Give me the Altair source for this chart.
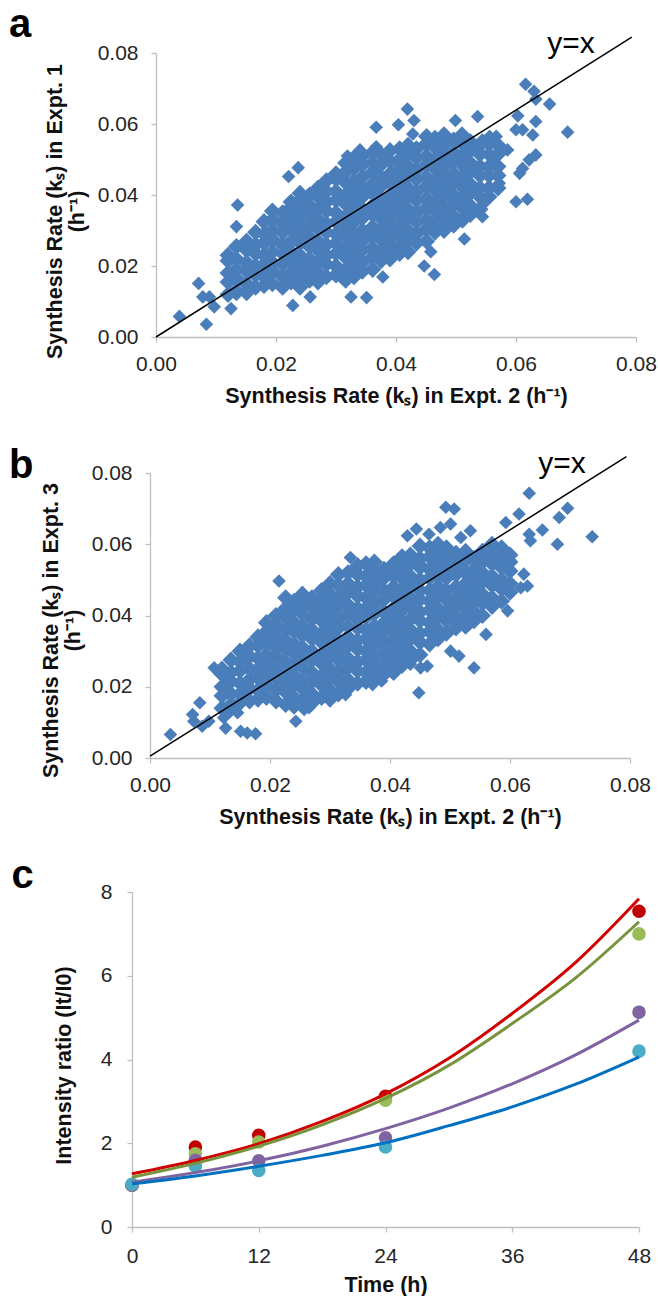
import altair as alt
import pandas as pd

W, H = 658, 1296
FONT = "Liberation Sans"
BLUE = "#4A7EBB"
AXIS_GRAY = "#BFBFBF"

# ---------------- Panel a: ks Expt. 2 (x) vs ks Expt. 1 (y), units of 0.001 h^-1 ----------------
a_col_x = [12, 13.4, 15.1, 16.6, 18, 19.4, 21.1, 22.5, 24, 25.6, 27, 28.4, 30, 31.6, 33, 34.4,
           36.1, 37.5, 39, 40.6, 42, 43.4, 45.1, 46.5, 48, 49.6, 51, 52.4, 54, 55.5, 57]
a_col_y = [
    [12, 15.5, 18, 21.5, 23],
    [13, 16.5, 19, 22, 25.5],
    [12.5, 15, 18.5, 21, 24.5, 27],
    [14, 17.5, 20, 23.5, 26, 29.5],
    [14.5, 17, 20.5, 23, 26.5, 29, 32.5],
    [15, 18.5, 21, 24, 27.5, 30, 33, 35.5],
    [14, 17, 20.5, 23.5, 26, 29.5, 32, 35],
    [15.5, 18, 21.5, 24, 27, 30.5, 33, 36.5, 38],
    [14, 17.5, 20, 23, 26.5, 29, 32.5, 35, 38.5, 40.5],
    [16, 19.5, 22, 25.5, 28, 31, 34.5, 37, 40],
    [15.5, 18, 21, 24.5, 27, 30.5, 33, 36, 39.5, 42],
    [17, 20.5, 23, 26, 29.5, 32, 35.5, 38, 41, 44],
    [17.5, 20, 23.5, 26.5, 29, 32.5, 35, 38.5, 41, 44.5, 46],
    [16, 19, 22.5, 25, 28.5, 31, 34, 37.5, 40, 43.5, 46.5, 49],
    [17, 20.5, 23, 26.5, 29, 32.5, 35.5, 38, 41.5, 44, 47.5, 50.5],
    [18.5, 21, 24.5, 27, 30, 33.5, 36, 39.5, 42, 45, 48.5, 51],
    [19, 22.5, 25, 28.5, 31, 34.5, 37, 40.5, 43, 46.5, 49, 52],
    [21.5, 24, 27.5, 30, 33.5, 36, 39, 42.5, 45, 48.5, 51.5],
    [22, 25.5, 28, 31.5, 34, 37.5, 40, 43.5, 46, 49.5, 52.5],
    [23.5, 26, 29.5, 32, 35.5, 38, 41.5, 44, 47.5, 50, 53],
    [24, 27.5, 30, 33.5, 36, 39.5, 42, 45.5, 48, 51.5, 54],
    [26.5, 29, 32.5, 35, 38.5, 41, 44.5, 47, 50.5, 53],
    [27, 30.5, 33, 36.5, 39, 42.5, 45, 48.5, 51, 54.5, 56.5],
    [29.5, 32, 35.5, 38, 41.5, 44, 47.5, 50, 53.5, 56],
    [30, 33.5, 36, 39.5, 42, 45.5, 48, 51.5, 54, 57],
    [31.5, 34, 37.5, 40, 43.5, 46, 49.5, 52, 55.5],
    [33, 36.5, 39, 42.5, 45, 48.5, 51, 54.5, 57],
    [34.5, 37, 40.5, 43, 46.5, 49, 52.5, 55],
    [36, 39.5, 42, 45.5, 48, 51.5, 54],
    [39.5, 42, 45.5, 48, 51.5, 54.5],
    [42, 45.5, 48, 51.5, 54],
]
a_out_x = [3.9, 8.4, 7.1, 7.8, 8.9, 9.7, 12.5, 13.4, 13.6, 13.4, 22.8, 25.7, 32.5, 35.1, 37.8,
           44.7, 46.4, 45.8, 51.4, 22.1, 23.7, 30.1, 31.9, 34.0, 36.7, 36.7, 40.4, 41.9, 43.0,
           42.8, 49.9, 53.6, 61.6, 63.0, 63.3, 65.6, 68.6, 63.3, 60.3, 62.8, 60.0, 61.1, 63.3,
           62.2, 61.1, 60.6, 60.0, 61.9, 57.2, 58.6, 56.1, 54.4, 54.4, 52.8, 51.1, 48.9, 55.6,
           56.7, 54.4, 52.2, 51.1]
a_out_y = [5.8, 3.6, 15.1, 11.3, 11.3, 8.5, 8.0, 12.0, 37.2, 31.1, 8.9, 11.3, 11.3, 11.1, 16.9,
           20.0, 17.6, 24.0, 27.6, 45.2, 47.7, 45.6, 51.0, 52.7, 59.1, 53.6, 59.8, 64.2, 61.0,
           57.2, 61.0, 62.1, 71.2, 69.2, 67.0, 65.6, 57.7, 60.7, 62.3, 56.9, 58.4, 58.4, 51.3,
           49.9, 47.5, 46.1, 38.1, 38.8, 43.3, 52.7, 48.9, 37.2, 33.9, 35.3, 32.5, 31.5, 56.5,
           56.5, 55.5, 55.5, 56.5]

# ---------------- Panel b: ks Expt. 2 (x) vs ks Expt. 3 (y) ----------------
b_col_x = [12, 13.5, 15, 16.6, 18, 19.4, 21, 22.6, 24, 25.4, 27, 28.6, 30, 31.4, 33, 34.6, 36,
           37.4, 39, 40.6, 42, 43.4, 45, 46.6, 48, 49.4, 51, 52.6, 54, 55.4, 57, 58.6, 60]
b_col_y = [
    [14, 17.5, 20, 23.5, 25],
    [15, 18, 21.5, 24, 27.5],
    [15.5, 18, 21, 24.5, 27, 30],
    [16, 19.5, 22, 25, 28.5, 31.5],
    [16.5, 19, 22.5, 25, 28, 31.5, 34],
    [17, 20.5, 23, 26.5, 29, 32, 35.5, 38],
    [16, 19, 22.5, 25, 28.5, 31, 34, 37.5, 40],
    [15, 18.5, 21, 24.5, 27, 30.5, 33, 36, 39.5, 42, 45],
    [14.5, 17, 20.5, 23, 26, 29.5, 32, 35.5, 38, 41.5, 44],
    [16, 19.5, 22, 25.5, 28, 31, 34.5, 37, 40.5, 43, 46],
    [15.5, 18, 21.5, 24, 27.5, 30, 33.5, 36, 39, 42.5, 45],
    [17, 20.5, 23, 26.5, 29, 32.5, 35, 38.5, 41, 44.5, 47],
    [16.5, 19, 22.5, 25, 28.5, 31, 34.5, 37, 40.5, 43, 46, 49],
    [18, 21.5, 24, 27.5, 30, 33, 36.5, 39, 42.5, 45, 48.5, 51.5],
    [19.5, 22, 25.5, 28, 31.5, 34, 37, 40.5, 43, 46.5, 49, 52],
    [21, 24.5, 27, 30.5, 33, 36.5, 39, 42, 45.5, 48, 51.5, 54],
    [21.5, 24, 27.5, 30, 33.5, 36, 39.5, 42, 45, 48.5, 51, 54.5],
    [22, 25.5, 28, 31.5, 34, 37, 40.5, 43, 46.5, 49, 52.5, 55],
    [23.5, 26, 29.5, 32, 35.5, 38, 41, 44.5, 47, 50.5, 53],
    [24, 27.5, 30, 33.5, 36, 39.5, 42, 45.5, 48, 51, 54.5],
    [26, 29.5, 32, 35.5, 38, 41.5, 44, 47, 50.5, 53, 56.5],
    [27.5, 30, 33.5, 36, 39, 42.5, 45, 48.5, 51, 54.5, 57],
    [29, 32.5, 35, 38.5, 41, 44.5, 47, 50, 53.5, 56, 59.5],
    [32, 35.5, 38, 41.5, 44, 47, 50.5, 53, 56.5, 59],
    [33.5, 36, 39.5, 42, 45.5, 48, 51, 54.5, 57, 60],
    [35, 38.5, 41, 44.5, 47, 50.5, 53, 56, 59],
    [36.5, 39, 42.5, 45, 48, 51.5, 54, 57.5],
    [37, 40.5, 43, 46.5, 49, 52, 55.5, 58],
    [38.5, 41, 44.5, 47, 50.5, 53, 56],
    [40, 43.5, 46, 49.5, 52, 55, 58],
    [42.5, 45, 48.5, 51, 54.5, 57, 60],
    [44, 47.5, 50, 53.5, 56, 59],
    [46.5, 49, 52.5, 55, 57],
]
b_out_x = [3.4, 7.1, 8.3, 7.3, 8.7, 9.8, 10.7, 12.6, 15.1, 16.2, 17.6, 12.3, 13.4, 14.6, 24.3,
           25.7, 26.5, 21.5, 33.4, 32.6, 37.1, 38.6, 42.9, 44.4, 46.5, 45.1, 44.8, 43.4, 45.1,
           46.2, 49.3, 50.7, 48.4, 50.1, 53.4, 51.8, 50.1, 51.5, 54.0, 56.0, 59.3, 61.5, 63.2,
           65.4, 68.2, 69.6, 67.9, 73.7, 63.2, 63.4, 62.3, 61.8, 62.9, 59.6, 52.3, 53.2, 54.0,
           54.6, 53.7]
b_out_y = [6.6, 12.2, 15.5, 10.3, 8.9, 10.3, 25.3, 8.4, 7.5, 7.0, 6.8, 11.3, 13.1, 12.7, 10.3,
           13.6, 14.1, 49.7, 56.3, 17.8, 20.6, 21.6, 62.4, 64.3, 62.8, 54.4, 18.3, 26.3, 25.3,
           25.8, 70.4, 69.9, 64.7, 65.7, 63.8, 61.9, 30.0, 28.6, 25.3, 34.7, 66.1, 68.5, 74.3,
           64.0, 67.5, 70.1, 60.0, 62.1, 62.8, 61.0, 51.6, 47.8, 48.3, 41.3, 39.4, 37.5, 47.8,
           44.1, 51.1]

# y = x reference line (end points as drawn)
a_line_x = [0.0, 0.0793]
a_line_y = [0.0, 0.0845]
b_line_x = [0.0, 0.0794]
b_line_y = [0.0005, 0.0846]

# ---------------- Panel c: intensity ratio vs time ----------------
t_obs = [0, 6, 12, 24, 48]
red_obs = [1.0, 1.91, 2.19, 3.12, 7.54]
green_obs = [1.0, 1.75, 2.03, 3.03, 7.0]
purple_obs = [1.0, 1.59, 1.58, 2.13, 5.13]
cyan_obs = [1.02, 1.45, 1.35, 1.91, 4.2]

t_fit = [0, 6, 12, 18, 24, 30, 36, 42, 48]
red_fit = [1.27, 1.59, 1.99, 2.52, 3.18, 4.03, 5.1, 6.32, 7.84]
green_fit = [1.19, 1.52, 1.93, 2.44, 3.07, 3.86, 4.86, 5.95, 7.29]
purple_fit = [1.07, 1.30, 1.58, 1.93, 2.35, 2.84, 3.42, 4.11, 4.94]
blue_fit = [1.03, 1.22, 1.45, 1.71, 2.01, 2.42, 2.87, 3.41, 4.06]

series = [
    ("red", red_obs, red_fit, "#C00000", "#D00000"),
    ("green", green_obs, green_fit, "#9BBB59", "#77933C"),
    ("purple", purple_obs, purple_fit, "#8064A2", "#8064A2"),
    ("cyan", cyan_obs, blue_fit, "#4BACC6", "#0070C0"),
]


def build_scatter(col_x, col_y):
    xs, ys = [], []
    for cx, cy in zip(col_x, col_y):
        xs += [cx / 1000.0] * len(cy)
        ys += [v / 1000.0 for v in cy]
    return pd.DataFrame({"x": xs, "y": ys})


def build_points(px, py):
    return pd.DataFrame({"x": [v / 1000.0 for v in px], "y": [v / 1000.0 for v in py]})


def x_axis(values, fmt, axis_y, title, title_x, pad, title_y=65):
    kw = dict(values=values, orient="bottom", offset=axis_y - H, title=title,
              titleX=title_x, titleY=title_y, titleAlign="center",
              titleBaseline="alphabetic", labelPadding=pad)
    if fmt:
        kw["format"] = fmt
    return alt.Axis(**kw)


def y_axis(values, fmt, axis_x, title, title_x, title_y, pad, lh=22):
    kw = dict(values=values, orient="left", offset=-axis_x, title=title,
              titleAngle=270, titleX=title_x - axis_x, titleY=title_y,
              titleAlign="center", titleBaseline="top", titleLineHeight=lh,
              labelPadding=pad)
    if fmt:
        kw["format"] = fmt
    return alt.Axis(**kw)


ks_ticks = [0, 0.02, 0.04, 0.06, 0.08]
x_title = "Synthesis Rate (kₛ) in Expt. 2 (h⁻¹)"


def scatter_panel(core, outl, xr, yr, ax_x, ax_y, lx, ly, lab_xy, letter, let_xy):
    X = alt.X("x:Q", scale=alt.Scale(domain=[0, 0.08], range=xr, nice=False, zero=False), axis=ax_x)
    Y = alt.Y("y:Q", scale=alt.Scale(domain=[0, 0.08], range=yr, nice=False, zero=False), axis=ax_y)
    pts_core = alt.Chart(core).mark_point(shape="diamond", filled=True, size=290, opacity=1,
                                          color=BLUE, strokeWidth=0).encode(x=X, y=Y)
    pts_out = alt.Chart(outl).mark_point(shape="diamond", filled=True, size=185, opacity=1,
                                         color=BLUE, strokeWidth=0).encode(x=X, y=Y)
    ln = alt.Chart(pd.DataFrame({"x": lx, "y": ly})).mark_line(
        color="black", strokeWidth=1.5).encode(x=X, y=Y)
    yx = alt.Chart(pd.DataFrame({"x": [lab_xy[0]], "y": [lab_xy[1]], "t": ["y=x"]})).mark_text(
        align="left", baseline="alphabetic", fontSize=30, font=FONT, color="black"
    ).encode(x=X, y=Y, text="t:N")
    let = alt.Chart(pd.DataFrame({"x": [let_xy[0]], "y": [let_xy[1]], "t": [letter]})).mark_text(
        align="left", baseline="alphabetic", fontSize=40, fontWeight="bold", font=FONT, color="black"
    ).encode(x=X, y=Y, text="t:N")
    return alt.layer(pts_core, pts_out, ln, yx, let)


panel_a = scatter_panel(
    build_scatter(a_col_x, a_col_y), build_points(a_out_x, a_out_y), [156, 636], [337, 53],
    x_axis(ks_ticks, ".2f", 337, x_title, 396, 11),
    y_axis(ks_ticks, ".2f", 156, ["Synthesis Rate (kₛ) in Expt. 1", "(h⁻¹)"], 44, 211, 13),
    a_line_x, a_line_y, (0.0652, 0.080), "a", (-0.0245, 0.0845))

panel_b = scatter_panel(
    build_scatter(b_col_x, b_col_y), build_points(b_out_x, b_out_y), [150, 630], [758, 473],
    x_axis(ks_ticks, ".2f", 758, x_title, 390, 11),
    y_axis(ks_ticks, ".2f", 150, ["Synthesis Rate (kₛ) in Expt. 3", "(h⁻¹)"], 40, 630, 13),
    b_line_x, b_line_y, (0.0647, 0.080), "b", (-0.0235, 0.0786))

# panel c
Xc = alt.X("t:Q", scale=alt.Scale(domain=[0, 48], range=[132, 639], nice=False, zero=False),
           axis=x_axis([0, 12, 24, 36, 48], None, 1227, "Time (h)", 385.5, 13.5, title_y=64))
Yc = alt.Y("v:Q", scale=alt.Scale(domain=[0, 8], range=[1227, 892], nice=False, zero=False),
           axis=y_axis([0, 2, 4, 6, 8], None, 132, "Intensity ratio (It/I0)", 53, 1065, 15))

c_layers = []
for name, obs, fit, pcol, lcol in series:
    c_layers.append(
        alt.Chart(pd.DataFrame({"t": t_obs, "v": obs})).mark_circle(
            size=185, opacity=1, color=pcol).encode(x=Xc, y=Yc))
for name, obs, fit, pcol, lcol in series:
    c_layers.append(
        alt.Chart(pd.DataFrame({"t": t_fit, "v": fit})).mark_line(
            strokeWidth=3, color=lcol, interpolate="monotone").encode(x=Xc, y=Yc))
c_layers.append(
    alt.Chart(pd.DataFrame({"t": [-11.4], "v": [8.1], "s": ["c"]})).mark_text(
        align="left", baseline="alphabetic", fontSize=40, fontWeight="bold", font=FONT,
        color="black").encode(x=Xc, y=Yc, text="s:N"))
panel_c = alt.layer(*c_layers)

chart = (
    alt.layer(panel_a, panel_b, panel_c)
    .resolve_scale(x="independent", y="independent")
    .resolve_axis(x="independent", y="independent")
    .properties(width=W, height=H, autosize=alt.AutoSizeParams(type="none"), padding=0)
    .configure_view(strokeWidth=0)
    .configure_axis(
        grid=False, domainColor=AXIS_GRAY, tickColor=AXIS_GRAY, domainWidth=1.3, tickWidth=1.3,
        tickSize=5, labelFont=FONT, labelFontSize=21, labelColor="#262626", labelFlush=False,
        titleFont=FONT, titleFontSize=21.5, titleFontWeight="bold", titleColor="#111111",
    )
)

chart.save("out.html", embed_options={"renderer": "svg", "actions": False})
